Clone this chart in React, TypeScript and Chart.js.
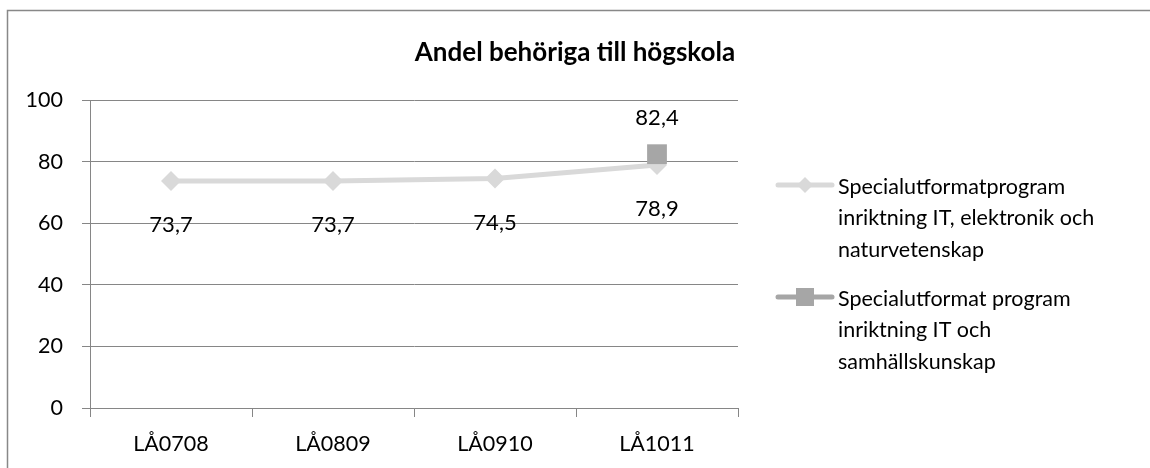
import React, { useEffect, useRef } from "react";
import { Chart, registerables } from "chart.js";

Chart.register(...registerables);

const categories = ["LÅ0708", "LÅ0809", "LÅ0910", "LÅ1011"];
const seriesITElektronik = [73.7, 73.7, 74.5, 78.9];
const seriesITSamhall = [null, null, null, 82.4];
const legendLabels1 = ["Specialutformatprogram", "inriktning IT, elektronik och", "naturvetenskap"];
const legendLabels2 = ["Specialutformat program", "inriktning IT och", "samhällskunskap"];
const titleText = "Andel behöriga till högskola";

const FONT = "Lato, 'Liberation Sans', sans-serif";
const COLOR1 = "#d9d9d9";
const COLOR2 = "#a6a6a6";
const GRID = "#868686";

const fmt = (v: number) => v.toFixed(1).replace(".", ",");

const decorPlugin = {
  id: "decor",
  beforeDraw(chart: any) {
    const ctx = chart.ctx;
    ctx.save();
    ctx.fillStyle = "#ffffff";
    ctx.fillRect(0, 0, chart.width, chart.height);
    ctx.strokeStyle = "#888888";
    ctx.lineWidth = 1.5;
    ctx.strokeRect(7.5, 10.5, 1300, 600);
    ctx.fillStyle = "#000";
    ctx.font = `bold 26px ${FONT}`;
    ctx.textAlign = "center";
    ctx.textBaseline = "middle";
    ctx.fillText(titleText, 575, 53);
    ctx.restore();
  },
  afterDatasetsDraw(chart: any) {
    const ctx = chart.ctx;
    ctx.save();
    ctx.fillStyle = "#000";
    ctx.font = `22px ${FONT}`;
    ctx.textAlign = "center";
    ctx.textBaseline = "middle";
    chart.data.datasets.forEach((ds: any, di: number) => {
      const meta = chart.getDatasetMeta(di);
      meta.data.forEach((el: any, i: number) => {
        const v = ds.data[i];
        if (v === null || v === undefined) return;
        const off = di === 0 ? 44 : -36;
        ctx.fillText(fmt(v), el.x, el.y + off);
      });
    });
    ctx.restore();
  },
  afterDraw(chart: any) {
    const ctx = chart.ctx;
    ctx.save();
    const items = [
      { color: COLOR1, lines: legendLabels1, y0: 187, marker: "diamond" },
      { color: COLOR2, lines: legendLabels2, y0: 299, marker: "square" },
    ];
    items.forEach((it) => {
      const my = it.y0 - 2;
      ctx.strokeStyle = it.color;
      ctx.lineWidth = 5;
      ctx.lineCap = "round";
      ctx.beginPath();
      ctx.moveTo(778, my);
      ctx.lineTo(832, my);
      ctx.stroke();
      ctx.fillStyle = it.color;
      const cx = 805;
      if (it.marker === "diamond") {
        ctx.beginPath();
        ctx.moveTo(cx, my - 8);
        ctx.lineTo(cx + 8, my);
        ctx.lineTo(cx, my + 8);
        ctx.lineTo(cx - 8, my);
        ctx.closePath();
        ctx.fill();
      } else {
        ctx.fillRect(cx - 9, my - 9, 18, 18);
      }
      ctx.fillStyle = "#000";
      ctx.font = `21.5px ${FONT}`;
      ctx.textAlign = "left";
      ctx.textBaseline = "middle";
      it.lines.forEach((t, i) => ctx.fillText(t, 838, it.y0 + i * 31.5));
    });
    ctx.restore();
  },
};

export default function App() {
  const ref = useRef<HTMLCanvasElement | null>(null);
  useEffect(() => {
    if (!ref.current) return;
    const chart = new Chart(ref.current, {
      type: "line",
      data: {
        labels: categories,
        datasets: [
          {
            label: legendLabels1.join(" "),
            data: seriesITElektronik,
            borderColor: COLOR1,
            backgroundColor: COLOR1,
            borderWidth: 5,
            pointStyle: "rectRot",
            pointRadius: 10,
            pointBackgroundColor: COLOR1,
            pointBorderColor: COLOR1,
            pointBorderWidth: 0,
            tension: 0,
            order: 1,
          },
          {
            label: legendLabels2.join(" "),
            data: seriesITSamhall,
            borderColor: COLOR2,
            backgroundColor: COLOR2,
            borderWidth: 4,
            pointStyle: "rect",
            pointRadius: 14,
            pointBackgroundColor: COLOR2,
            pointBorderColor: COLOR2,
            pointBorderWidth: 0,
            order: 0,
          },
        ],
      },
      options: {
        responsive: false,
        animation: false,
        layout: { padding: { top: 100, right: 412, left: 0, bottom: 0 } },
        plugins: { legend: { display: false }, title: { display: false }, tooltip: { enabled: false } },
        scales: {
          x: {
            offset: true,
            grid: { offset: true, drawOnChartArea: false, color: GRID, tickLength: 9 },
            border: { color: GRID },
            ticks: { color: "#000", font: { family: FONT, size: 21.5 }, padding: 14 },
            afterFit(scale: any) {
              scale.height = 60;
            },
          },
          y: {
            min: 0,
            max: 100,
            ticks: { stepSize: 20, color: "#000", font: { family: FONT, size: 21.5 }, padding: 19 },
            grid: { color: GRID, tickLength: 8 },
            border: { color: GRID },
            afterFit(scale: any) {
              scale.width = 90;
            },
          },
        },
      },
      plugins: [decorPlugin],
    });
    return () => chart.destroy();
  }, []);
  return (
    <div style={{ position: "absolute", left: 0, top: 0, width: 1150, height: 468 }}>
      <canvas ref={ref} width={1150} height={468} />
    </div>
  );
}
